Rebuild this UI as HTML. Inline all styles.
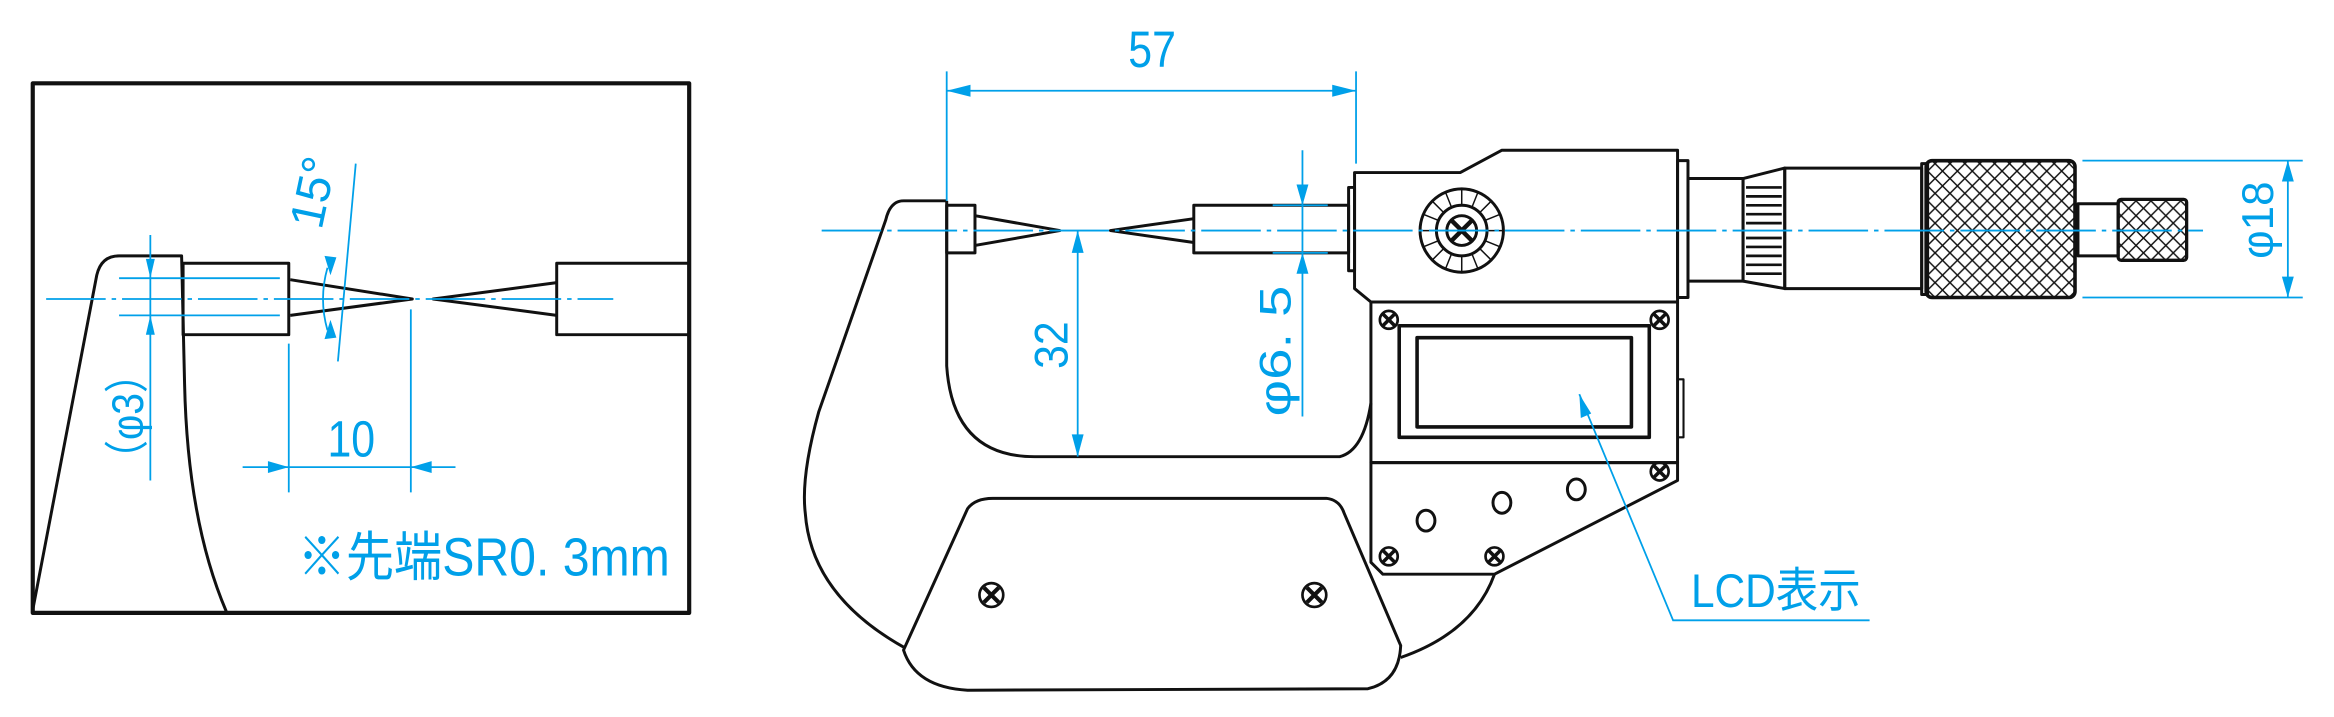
<!DOCTYPE html>
<html><head><meta charset="utf-8"><style>html,body{margin:0;padding:0;background:#fff}svg{display:block}</style></head><body>
<svg width="2334" height="717" viewBox="0 0 1568 482" preserveAspectRatio="none" xmlns="http://www.w3.org/2000/svg">
<defs>
<pattern id="kn" width="10" height="10" patternUnits="userSpaceOnUse"><path d="M0 0L10 10M10 0L0 10" stroke="#111" stroke-width="1"/></pattern>
</defs>
<g fill="none" stroke="#111" stroke-width="2" stroke-linejoin="round">
<rect x="22" y="56" width="441" height="356" stroke-width="2.8"/>
<path d="M22 410 L65 185 Q68 172 80 172 L122 172 L124 258 Q126 350 152 411"/>
<rect x="123" y="177" width="71" height="48"/>
<path d="M195 188 L277 201 L195 212"/>
<path d="M374 190 L291 201 L374 212"/>
<path d="M463 177 L374 177 L374 225 L463 225"/>
<path d="M636 135 L607 135 Q598 135 595 148 L550 277 Q538 320 541 345 Q545 400 607 435"/>
<path d="M636 135 L636 246 Q640 307 695 307 L900 307 Q916 303 921 271"/>
<rect x="636" y="138" width="19" height="32"/>
<path d="M655 145 L712 155 L655 165"/>
<path d="M802 147 L746 155 L802 163"/>
<rect x="802" y="138" width="104" height="32"/>
<path d="M910 116 L981 116 L1009 101 L1127 101 L1127 203 L921 203 L910 194 Z"/>
<rect x="906" y="126" width="4" height="56"/>
<rect x="1127" y="108" width="7" height="92"/>
<circle cx="982" cy="155" r="28"/>
<circle cx="982" cy="155" r="17"/>
<circle cx="982" cy="155" r="10"/>
<path d="M975 148L989 162M989 148L975 162" stroke-width="3"/>
<g stroke-width="1">
<path d="M982 127V138M982 172V183M954 155H965M999 155H1010M962 135L970 143M1002 135L994 143M962 175L970 167M1002 175L994 167M971 129L975 139M993 129L989 139M971 181L975 171M993 181L989 171M956 144L966 148M1008 144L998 148M956 166L966 162M1008 166L998 162"/>
</g>
<rect x="1134" y="120" width="37" height="69"/>
<path d="M1171 120 L1199 113 L1199 194 L1171 189 Z"/>
<g stroke-width="1.8">
<path d="M1173 126H1197M1173 132H1197M1173 138H1197M1173 144H1197M1173 150H1197M1173 160H1197M1173 166H1197M1173 172H1197M1173 178H1197M1173 184H1197"/>
</g>
<rect x="1199" y="113" width="92" height="81"/>
<rect x="1294" y="108" width="100" height="92" rx="4" fill="url(#kn)" stroke-width="2.4"/>
<rect x="1291" y="110" width="4" height="88"/>
<rect x="1396" y="137" width="27" height="35"/>
<rect x="1423" y="134" width="46" height="41" rx="2" fill="url(#kn)" stroke-width="2.2"/>
<rect x="921" y="203" width="206" height="108"/>
<rect x="940" y="219" width="168" height="75" stroke-width="2.4"/>
<rect x="952" y="227" width="144" height="60" stroke-width="2.4"/>
<rect x="1127" y="255" width="4" height="39" stroke-width="1.4"/>
<path d="M921 311 L1127 311 L1127 323 L1004 386 L929 386 L921 378 Z"/>
<ellipse cx="958" cy="350" rx="6" ry="7"/>
<ellipse cx="1009" cy="338" rx="6" ry="7"/>
<ellipse cx="1059" cy="329" rx="6" ry="7"/>
<path d="M1004 386 Q990 425 941 442"/>
<path d="M667 335 L891 335 Q900 336 903 345 L941 434 Q940 458 919 463 L650 464 Q615 462 607 437 L650 342 Q655 335 667 335 Z"/>
<g stroke-width="1.8">
<circle cx="666" cy="400" r="8"/><path d="M661 395L671 405M671 395L661 405" stroke-width="2.8"/>
<circle cx="883" cy="400" r="8"/><path d="M878 395L888 405M888 395L878 405" stroke-width="2.8"/>
<circle cx="933" cy="215" r="6"/><path d="M929 211L937 219M937 211L929 219" stroke-width="2.4"/>
<circle cx="1115" cy="215" r="6"/><path d="M1111 211L1119 219M1119 211L1111 219" stroke-width="2.4"/>
<circle cx="1115" cy="317" r="6"/><path d="M1111 313L1119 321M1119 313L1111 321" stroke-width="2.4"/>
<circle cx="933" cy="374" r="6"/><path d="M929 370L937 378M937 370L929 378" stroke-width="2.4"/>
<circle cx="1004" cy="374" r="6"/><path d="M1000 370L1008 378M1008 370L1000 378" stroke-width="2.4"/>
</g>
</g>
<g stroke="#00a0e9" stroke-width="1.2" fill="none">
<path d="M31 201 H412" stroke-dasharray="40 4 3 4"/>
<path d="M80 187H188M80 212H188"/>
<path d="M101 158V323"/>
<path d="M239 110 L227 243"/>
<path d="M220 180 Q214 201 220 222"/>
<path d="M194 231V331M276 208V331M163 314H306"/>
<path d="M552 155 H1480" stroke-dasharray="40 4 3 4"/>
<path d="M636 48V135M911 48V110M636 61H911"/>
<path d="M875 101V280M855 138H892M855 170H892"/>
<path d="M724 155V307"/>
<path d="M1399 108H1547M1399 200H1547M1537 108V200"/>
<path d="M1061 265 L1124 417 H1256"/>
</g>
<g fill="#00a0e9">
<polygon points="101,187 98,174 104,174"/>
<polygon points="101,212 98,225 104,225"/>
<polygon points="222,185 218,172 226,173"/>
<polygon points="222,215 218,228 226,227"/>
<polygon points="194,314 180,310 180,318"/>
<polygon points="276,314 290,310 290,318"/>
<polygon points="636,61 652,57 652,65"/>
<polygon points="911,61 895,57 895,65"/>
<polygon points="875,138 871,124 879,124"/>
<polygon points="875,170 871,184 879,184"/>
<polygon points="724,155 720,170 728,170"/>
<polygon points="724,307 720,292 728,292"/>
<polygon points="1537,108 1533,122 1541,122"/>
<polygon points="1537,200 1533,186 1541,186"/>
<polygon points="1061,265 1062,281 1069,278"/>
</g>
<g fill="#00a0e9" font-family="Liberation Sans, 'Noto Sans CJK JP', sans-serif">
<text x="758" y="45" font-size="34" textLength="32" lengthAdjust="spacingAndGlyphs">57</text>
<text x="220" y="307" font-size="34" textLength="32" lengthAdjust="spacingAndGlyphs">10</text>
<text transform="translate(717,248) rotate(-90)" font-size="32" textLength="32" lengthAdjust="spacingAndGlyphs">32</text>
<text transform="translate(867,280) rotate(-90)" font-size="30" textLength="88" lengthAdjust="spacingAndGlyphs">φ6. 5</text>
<text transform="translate(1527,174) rotate(-90)" font-size="30" textLength="52" lengthAdjust="spacingAndGlyphs">φ18</text>
<text transform="translate(96,322) rotate(-90)" font-size="30" textLength="84" lengthAdjust="spacingAndGlyphs">（φ3）</text>
<text transform="translate(216,155) rotate(-78)" font-size="32" textLength="48" lengthAdjust="spacingAndGlyphs">15°</text>
<text x="200" y="387" font-size="36" textLength="250" lengthAdjust="spacingAndGlyphs">※先端SR0. 3mm</text>
<text x="1136" y="408" font-size="32" textLength="114" lengthAdjust="spacingAndGlyphs">LCD表示</text>
</g>
</svg>
</body></html>
